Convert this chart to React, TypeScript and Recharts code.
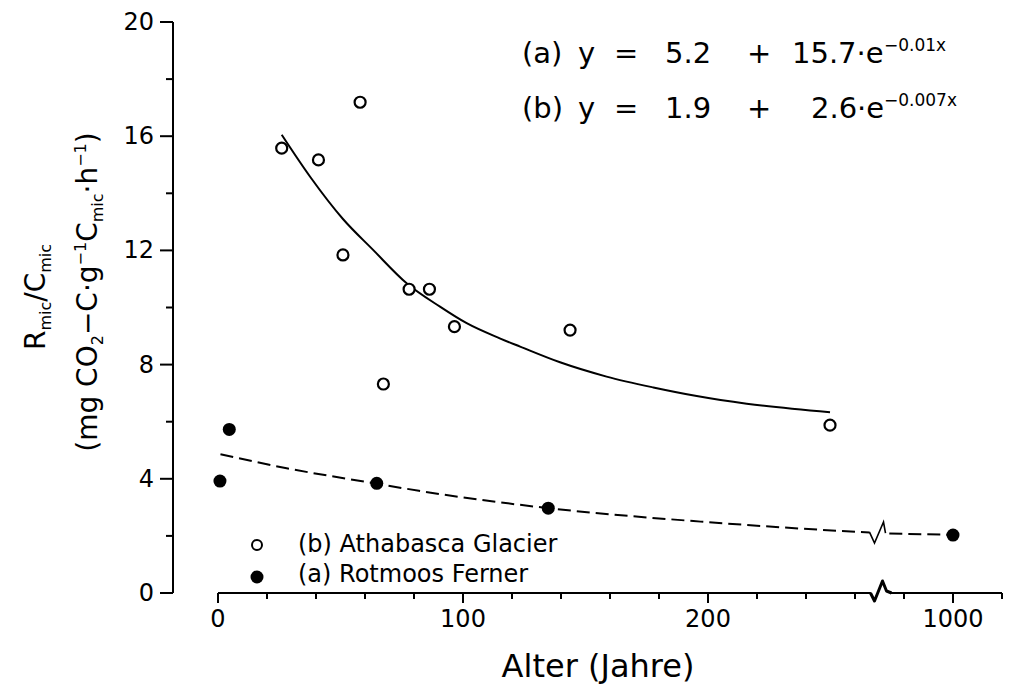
import React from "react";
import {
  ComposedChart,
  XAxis,
  YAxis,
  Line,
  Scatter,
  ReferenceLine,
  ReferenceDot,
} from "recharts";

// ---- data (x in years; 1000 years is drawn after the axis break) ----
const athabascaX = [26, 41, 51, 58, 67.5, 78, 86.3, 96.5, 143.7, 249.8];
const athabascaY = [15.58, 15.17, 11.84, 17.19, 7.32, 10.64, 10.64, 9.33, 9.21, 5.88];

const rotmoosX = [0.8, 4.6, 64.8, 134.8, 1000];
const rotmoosY = [3.92, 5.73, 3.84, 2.97, 2.03];

const fitAthabascaX = [26, 37.6, 51, 63.4, 77, 90.6, 101.5, 115, 123.3, 139.6, 158.6, 177.7, 195.4, 215.8, 249.8];
const fitAthabascaY = [16.05, 14.58, 13.1, 12.01, 10.85, 10.03, 9.45, 8.92, 8.63, 8.08, 7.58, 7.2, 6.9, 6.63, 6.33];

const fitRotmoosX = [1, 28, 64, 82, 135, 197, 245, 266];
const fitRotmoosY = [4.86, 4.37, 3.84, 3.58, 2.97, 2.5, 2.22, 2.12];
const fitRotmoosAfterX = [274, 1000];
const fitRotmoosAfterY = [2.08, 2.04];

const xTicks = [0, 20, 40, 60, 80, 100, 120, 140, 160, 180, 200, 220, 240, 260, 280, 300, 320];
const xMajor = [0, 100, 200, 300];
const xTickLabels: Record<number, string> = { 0: "0", 100: "100", 200: "200", 300: "1000" };
const yTicks = [0, 2, 4, 6, 8, 10, 12, 14, 16, 18, 20];
const yMajor = [0, 4, 8, 12, 16, 20];

const BREAK_POS = 270; // position of axis break
const POS_1000 = 300; // axis position where 1000 years is drawn

const pos = (year: number) => (year >= 1000 ? POS_1000 : year);

const athabasca = athabascaX.map((x, i) => ({ x: pos(x), y: athabascaY[i] }));
const rotmoos = rotmoosX.map((x, i) => ({ x: pos(x), y: rotmoosY[i] }));
const fitAthabasca = fitAthabascaX.map((x, i) => ({ x: pos(x), y: fitAthabascaY[i] }));
const fitRotmoos = fitRotmoosX.map((x, i) => ({ x: pos(x), y: fitRotmoosY[i] }));
const fitRotmoosAfter = fitRotmoosAfterX.map((x, i) => ({ x: pos(x), y: fitRotmoosAfterY[i] }));

const FONT = "'DejaVu Sans', sans-serif";

const XTick = (props: any) => {
  const { x, y, payload } = props;
  const v = payload.value;
  const major = xMajor.includes(v);
  return (
    <g>
      <line x1={x} x2={x} y1={y} y2={y + (major ? 10 : 6)} stroke="#000" strokeWidth={2} />
      {major && (
        <text x={x} y={y + 34} textAnchor="middle" fontSize={24} fontFamily={FONT} fill="#000">
          {xTickLabels[v]}
        </text>
      )}
    </g>
  );
};

const YTick = (props: any) => {
  const { x, y, payload } = props;
  const v = payload.value;
  const major = yMajor.includes(v);
  return (
    <g>
      <line x1={x} x2={x - (major ? 13 : 7)} y1={y} y2={y} stroke="#000" strokeWidth={2} />
      {major && (
        <text x={x - 19} y={y + 8} textAnchor="end" fontSize={24} fontFamily={FONT} fill="#000">
          {v}
        </text>
      )}
    </g>
  );
};

const OpenCircle = (p: any) => (
  <circle cx={p.cx} cy={p.cy} r={5.5} fill="#fff" stroke="#000" strokeWidth={2.2} />
);
const FilledCircle = (p: any) => <circle cx={p.cx} cy={p.cy} r={6.5} fill="#000" stroke="none" />;

const AxisBreak = (p: any) => (
  <path
    d={`M ${p.cx - 9} ${p.cy} L ${p.cx - 5} ${p.cy + 8} L ${p.cx + 3} ${p.cy - 12} L ${p.cx + 7} ${p.cy - 2} L ${p.cx + 12} ${p.cy}`}
    fill="none"
    stroke="#000"
    strokeWidth={3}
    strokeLinejoin="round"
  />
);
const LineBreak = (p: any) => (
  <path
    d={`M ${p.cx - 10} ${p.cy - 1} L ${p.cx - 5} ${p.cy + 10} L ${p.cx + 4} ${p.cy - 11} L ${p.cx + 6} ${p.cy}`}
    fill="none"
    stroke="#000"
    strokeWidth={1.6}
  />
);

export default function App() {
  return (
    <div style={{ position: "absolute", left: 0, top: 0, width: 1012, height: 696, background: "#fff" }}>
      <ComposedChart
        width={1012}
        height={696}
        margin={{ top: 22, right: 10, bottom: 63, left: 113 }}
        style={{ position: "absolute", left: 0, top: 0 }}
      >
        <XAxis
          type="number"
          dataKey="x"
          domain={[-18.37, 320]}
          allowDataOverflow
          ticks={xTicks}
          interval={0}
          height={40}
          axisLine={false}
          tickLine={false}
          tickSize={0}
          tickMargin={0}
          tick={<XTick />}
        />
        <YAxis
          type="number"
          dataKey="y"
          domain={[0, 20]}
          ticks={yTicks}
          interval={0}
          width={60}
          axisLine={{ stroke: "#000", strokeWidth: 2 }}
          tickLine={false}
          tickSize={0}
          tickMargin={0}
          tick={<YTick />}
        />
        <ReferenceLine
          segment={[{ x: 0, y: 0 }, { x: 266.5, y: 0 }]}
          stroke="#000"
          strokeWidth={2}
          ifOverflow="visible"
        />
        <ReferenceLine
          segment={[{ x: 274.5, y: 0 }, { x: 320, y: 0 }]}
          stroke="#000"
          strokeWidth={2}
          ifOverflow="visible"
        />
        <ReferenceDot x={BREAK_POS} y={0} ifOverflow="visible" shape={<AxisBreak />} />
        <Line
          data={fitAthabasca}
          dataKey="y"
          type="monotone"
          stroke="#000"
          strokeWidth={2}
          dot={false}
          activeDot={false}
          isAnimationActive={false}
        />
        <Line
          data={fitRotmoos}
          dataKey="y"
          type="monotone"
          stroke="#000"
          strokeWidth={2}
          strokeDasharray="13 6"
          dot={false}
          activeDot={false}
          isAnimationActive={false}
        />
        <Line
          data={fitRotmoosAfter}
          dataKey="y"
          type="linear"
          stroke="#000"
          strokeWidth={2}
          strokeDasharray="13 6"
          dot={false}
          activeDot={false}
          isAnimationActive={false}
        />
        <ReferenceDot x={BREAK_POS} y={2.1} ifOverflow="visible" shape={<LineBreak />} />
        <Scatter data={athabasca} dataKey="y" shape={<OpenCircle />} isAnimationActive={false} />
        <Scatter data={rotmoos} dataKey="y" shape={<FilledCircle />} isAnimationActive={false} />
      </ComposedChart>

      <svg
        width={1012}
        height={696}
        style={{ position: "absolute", left: 0, top: 0, pointerEvents: "none" }}
        fontFamily={FONT}
      >
        {/* equations */}
        <g fontSize={29} fill="#000">
          <text x={522} y={63}>(a)</text>
          <text x={578} y={63}>y</text>
          <text x={614} y={63}>=</text>
          <text x={665} y={63}>5.2</text>
          <text x={747} y={63}>+</text>
          <text x={792} y={63}>15.7·e</text>
          <text x={884} y={51} fontSize={17}>−0.01x</text>

          <text x={522} y={118}>(b)</text>
          <text x={578} y={118}>y</text>
          <text x={614} y={118}>=</text>
          <text x={665} y={118}>1.9</text>
          <text x={747} y={118}>+</text>
          <text x={811} y={118}>2.6·e</text>
          <text x={884} y={106} fontSize={17}>−0.007x</text>
        </g>

        {/* legend */}
        <circle cx={257} cy={545} r={5} fill="#fff" stroke="#000" strokeWidth={2} />
        <text x={298} y={552} fontSize={24} fill="#000">(b) Athabasca Glacier</text>
        <circle cx={257} cy={577} r={6.5} fill="#000" />
        <text x={298} y={582} fontSize={24} fill="#000">(a) Rotmoos Ferner</text>

        {/* x-axis title */}
        <text x={598} y={677} fontSize={32} textAnchor="middle" fill="#000">Alter (Jahre)</text>

        {/* y-axis title */}
        <g transform="rotate(-90, 45, 297)">
          <text x={45} y={297} fontSize={28} textAnchor="middle" fill="#000">
            R<tspan fontSize={16} dy={6}>mic</tspan>
            <tspan dy={-6}>/C</tspan>
            <tspan fontSize={16} dy={6}>mic</tspan>
          </text>
        </g>
        <g transform="rotate(-90, 97, 292)">
          <text x={97} y={292} fontSize={28} textAnchor="middle" fill="#000">
            (mg CO<tspan fontSize={16} dy={6}>2</tspan>
            <tspan dy={-6}>−C·g</tspan>
            <tspan fontSize={16} dy={-11}>−1</tspan>
            <tspan dy={11}>C</tspan>
            <tspan fontSize={16} dy={6}>mic</tspan>
            <tspan dy={-6}>·h</tspan>
            <tspan fontSize={16} dy={-11}>−1</tspan>
            <tspan dy={11}>)</tspan>
          </text>
        </g>
      </svg>
    </div>
  );
}
